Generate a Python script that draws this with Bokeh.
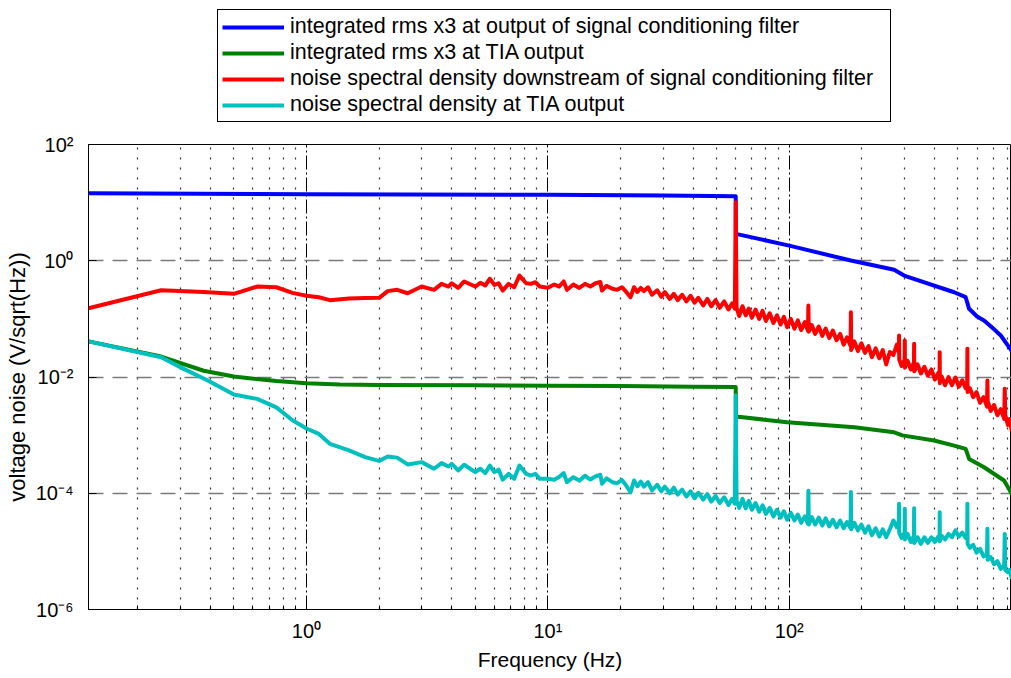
from bokeh.plotting import figure
from bokeh.layouts import column
from bokeh.models import (FixedTicker, Legend, LegendItem, CustomJSTickFormatter)
from bokeh.embed import file_html
from bokeh.resources import INLINE

FONT = "Liberation Sans"

# ---------------- data ----------------
x_major = [1, 10, 100]
x_minor = [0.2, 0.3, 0.4, 0.5, 0.6, 0.7, 0.8, 0.9,
           2, 3, 4, 5, 6, 7, 8, 9,
           20, 30, 40, 50, 60, 70, 80, 90,
           200, 300, 400, 500, 600, 700, 800]
x_tick_labels = ["10\u2070", "10\u00b9", "10\u00b2"]
y_major = [1e-6, 1e-4, 1e-2, 1, 1e2]
y_tick_labels = ["10\u207b\u2076", "10\u207b\u2074", "10\u207b\u00b2", "10\u2070", "10\u00b2"]
y_grid = [1e-4, 1e-2, 1]

x_title = "Frequency (Hz)"
y_title = "voltage noise (V/sqrt(Hz))"
labels = ["integrated rms x3 at output of signal conditioning filter",
          "integrated rms x3 at TIA output",
          "noise spectral density downstream of signal conditioning filter",
          "noise spectral density at TIA output"]
colors = ["#0000FF", "#008000", "#FF0000", "#00BFBF"]

blue_pairs = [(0.125, 14.5), (1.0, 14.0), (10.0, 13.6), (30.0, 13.2), (60.0, 12.9),
              (60.125, 2.90), (100.0, 1.82), (180.0, 1.01), (272.0, 0.70), (299.0, 0.557),
              (482.0, 0.287), (538.0, 0.236), (556.0, 0.149), (600.0, 0.11), (641.0, 0.094),
              (700.0, 0.068), (752.0, 0.0517), (800.0, 0.036), (833.0, 0.0286)]

green_pairs = [(0.125, 0.041), (0.25, 0.0225), (0.375, 0.0128), (0.5, 0.0102), (0.75, 0.0085),
               (1.0, 0.0078), (1.375, 0.0074), (2.0, 0.0073), (5.0, 0.0072), (10.0, 0.0071),
               (20.0, 0.0070), (40.0, 0.0068), (60.0, 0.0067), (60.125, 0.00209), (98.0, 0.00167),
               (186.0, 0.00137), (272.0, 0.00112), (294.0, 0.00099), (398.0, 0.00081),
               (482.0, 0.00066), (538.0, 0.00058), (556.0, 0.00039), (641.0, 0.00028),
               (776.0, 0.000166), (833.0, 0.0001)]

red_pairs = [(0.125, 0.152), (0.25, 0.31), (0.375, 0.29), (0.5, 0.27), (0.625, 0.36), (0.75, 0.35),
             (0.875, 0.28), (1.0, 0.25), (1.125, 0.235), (1.25, 0.21), (1.5, 0.225), (1.75, 0.228),
             (2.0, 0.23), (2.17, 0.30), (2.375, 0.316), (2.625, 0.276), (3.0, 0.36), (3.375, 0.316),
             (3.625, 0.40), (3.875, 0.36), (4.0, 0.41), (4.25, 0.342), (4.5, 0.44), (5.0, 0.36),
             (5.25, 0.417), (5.5, 0.375), (5.75, 0.49), (6.0, 0.385), (6.25, 0.41), (6.5, 0.307),
             (6.875, 0.40), (7.25, 0.35), (7.625, 0.556), (8.125, 0.41), (8.5, 0.40), (8.875, 0.427),
             (9.25, 0.36), (10.0, 0.342), (10.625, 0.39), (11.125, 0.36), (11.625, 0.44), (12.0, 0.316),
             (12.75, 0.39), (13.5, 0.34), (14.25, 0.40), (15.0, 0.36), (15.75, 0.41), (16.5, 0.43),
             (16.75, 0.307), (17.5, 0.37), (18.5, 0.33), (19.375, 0.316), (20.25, 0.35), (21.0, 0.30),
             (22.0, 0.236), (22.75, 0.35), (23.5, 0.29), (24.25, 0.34), (25.0, 0.30), (26.0, 0.35),
             (27.0, 0.26), (28.375, 0.31), (29.5, 0.24), (30.5, 0.29), (32.0, 0.22), (33.25, 0.27),
             (34.5, 0.21), (36.0, 0.26), (37.5, 0.20), (39.0, 0.25), (40.5, 0.19), (42.0, 0.23),
             (44.0, 0.17), (45.75, 0.22), (47.5, 0.165), (49.5, 0.21), (51.5, 0.155), (53.75, 0.20),
             (56.0, 0.145), (58.0, 0.185), (59.5, 0.150), (60.0, 10.1), (60.5, 0.155), (62.0, 0.112),
             (64.0, 0.165), (66.0, 0.115), (68.0, 0.150), (70.0, 0.105), (72.5, 0.145), (75.0, 0.100),
             (77.5, 0.138), (80.0, 0.092), (83.0, 0.125), (86.0, 0.085), (89.0, 0.115), (92.0, 0.080),
             (95.0, 0.108), (98.0, 0.072), (101.5, 0.100), (105.0, 0.068), (108.5, 0.094), (112.0, 0.064),
             (116.0, 0.088), (119.5, 0.062), (120.0, 0.170), (120.5, 0.060), (124.0, 0.078), (128.0, 0.055),
             (132.5, 0.074), (137.0, 0.051), (141.5, 0.068), (146.5, 0.047), (151.5, 0.063), (157.0, 0.043),
             (162.5, 0.055), (168.0, 0.036), (173.5, 0.048), (179.5, 0.034), (180.0, 0.130), (180.5, 0.029),
             (186.0, 0.041), (192.5, 0.028), (199.0, 0.038), (206.0, 0.026), (213.0, 0.034), (220.0, 0.022),
             (228.0, 0.031), (236.0, 0.021), (244.0, 0.029), (252.0, 0.0165), (261.0, 0.027), (270.0, 0.024),
             (279.0, 0.036), (284.5, 0.027), (285.0, 0.0517), (285.5, 0.020), (292.0, 0.0155), (300.5, 0.020),
             (301.0, 0.0424), (301.5, 0.0145), (309.0, 0.019), (319.0, 0.0135), (328.5, 0.018), (329.0, 0.0372),
             (329.5, 0.0125), (340.0, 0.0165), (351.0, 0.0115), (363.0, 0.0150), (375.0, 0.0105), (388.0, 0.0135),
             (401.0, 0.0090), (414.5, 0.0118), (419.5, 0.0088), (420.0, 0.0267), (420.5, 0.0078), (428.0, 0.0102),
             (442.0, 0.0072), (457.0, 0.0100), (472.0, 0.0072), (488.0, 0.0098), (504.0, 0.0068), (521.0, 0.0088),
             (538.0, 0.0064), (546.0, 0.0080), (547.0, 0.0305), (548.0, 0.0055), (560.0, 0.0064), (578.0, 0.0045),
             (597.0, 0.0055), (617.0, 0.0036), (638.0, 0.0045), (659.5, 0.0031), (662.0, 0.0087), (664.0, 0.0038),
             (683.0, 0.0026), (705.0, 0.0033), (728.0, 0.0022), (752.0, 0.0028), (777.0, 0.0019), (781.0, 0.00627),
             (785.0, 0.0022), (805.0, 0.0015), (818.0, 0.0019), (833.0, 0.00125)]

cyan_pairs = [(0.125, 0.041), (0.25, 0.0219), (0.31, 0.0138), (0.39, 0.0087), (0.5, 0.0050), (0.625, 0.0042),
              (0.75, 0.0030), (0.875, 0.0018), (1.0, 0.0013), (1.125, 0.00105), (1.25, 0.00071), (1.5, 0.000545),
              (1.75, 0.000418), (2.0, 0.00036), (2.17, 0.00043), (2.375, 0.00041), (2.625, 0.000313),
              (3.0, 0.000343), (3.375, 0.000264), (3.625, 0.00033), (3.875, 0.000289), (4.0, 0.00032),
              (4.25, 0.000247), (4.5, 0.000309), (5.0, 0.000231), (5.25, 0.000264), (5.5, 0.000222),
              (5.75, 0.00030), (6.0, 0.000231), (6.25, 0.000254), (6.5, 0.000171), (6.875, 0.000216),
              (7.25, 0.000177), (7.625, 0.00030), (8.125, 0.000216), (8.5, 0.000202), (8.875, 0.000216),
              (9.25, 0.000177), (10.0, 0.000177), (10.625, 0.000171), (11.125, 0.000190), (11.625, 0.000222),
              (12.0, 0.000155), (12.75, 0.000189), (13.5, 0.000165), (14.25, 0.000200), (15.0, 0.000172),
              (15.75, 0.000195), (16.5, 0.000208), (16.75, 0.000146), (17.5, 0.000180), (18.5, 0.000155),
              (19.375, 0.000149), (20.25, 0.000170), (21.0, 0.000140), (22.0, 0.000104), (22.75, 0.000166),
              (23.5, 0.000132), (24.25, 0.000158), (25.0, 0.000130), (26.0, 0.000155), (27.0, 0.000112),
              (28.375, 0.000140), (29.5, 0.000108), (30.5, 0.000130), (32.0, 0.000100), (33.25, 0.000125),
              (34.5, 0.000095), (36.0, 0.000115), (37.5, 0.000088), (39.0, 0.000108), (40.5, 0.000082),
              (42.0, 0.000102), (44.0, 0.000078), (45.75, 0.000097), (47.5, 0.000072), (49.5, 0.000090),
              (51.5, 0.000068), (53.75, 0.000085), (56.0, 0.000063), (58.0, 0.000080), (59.5, 0.000066),
              (60.0, 0.0048), (60.5, 7.5e-5), (62.0, 5.6e-5), (64.0, 8.0e-5), (66.0, 5.5e-5), (68.0, 7.4e-5),
              (70.0, 5.2e-5), (72.5, 6.8e-5), (75.0, 4.8e-5), (77.5, 6.2e-5), (80.0, 4.4e-5), (83.0, 5.6e-5),
              (86.0, 4.0e-5), (89.0, 5.2e-5), (92.0, 3.8e-5), (95.0, 4.9e-5), (98.0, 3.5e-5), (101.5, 4.6e-5),
              (105.0, 3.4e-5), (108.5, 4.3e-5), (112.0, 3.1e-5), (116.0, 4.0e-5), (119.5, 3.0e-5), (120.0, 1.10e-4),
              (120.5, 2.9e-5), (124.0, 3.9e-5), (128.0, 2.9e-5), (132.5, 3.8e-5), (137.0, 2.8e-5), (141.5, 3.7e-5),
              (146.5, 2.7e-5), (151.5, 3.5e-5), (157.0, 2.6e-5), (162.5, 3.4e-5), (168.0, 2.5e-5), (173.5, 3.2e-5),
              (179.5, 2.5e-5), (180.0, 1.05e-4), (180.5, 2.4e-5), (186.0, 3.1e-5), (192.5, 2.3e-5), (199.0, 2.9e-5),
              (206.0, 2.1e-5), (213.0, 2.7e-5), (220.0, 1.9e-5), (228.0, 2.5e-5), (236.0, 1.8e-5), (244.0, 2.4e-5),
              (252.0, 1.75e-5), (261.0, 2.4e-5), (270.0, 3.4e-5), (279.0, 2.6e-5), (284.5, 3.3e-5), (285.0, 6.6e-5),
              (285.5, 2.1e-5), (292.0, 1.7e-5), (300.5, 2.1e-5), (301.0, 5.4e-5), (301.5, 1.6e-5), (309.0, 2.0e-5),
              (319.0, 1.45e-5), (328.5, 1.85e-5), (329.0, 5.5e-5), (329.5, 1.4e-5), (340.0, 1.75e-5), (351.0, 1.35e-5),
              (363.0, 1.75e-5), (375.0, 1.4e-5), (388.0, 1.75e-5), (401.0, 1.45e-5), (414.5, 1.8e-5), (419.5, 1.5e-5),
              (420.0, 4.73e-5), (420.5, 1.5e-5), (428.0, 1.85e-5), (442.0, 1.6e-5), (457.0, 2.0e-5), (472.0, 1.75e-5),
              (488.0, 2.3e-5), (504.0, 1.8e-5), (521.0, 2.1e-5), (538.0, 1.7e-5), (546.0, 1.9e-5), (547.0, 6.6e-5),
              (548.0, 1.35e-5), (560.0, 1.15e-5), (578.0, 1.3e-5), (597.0, 9.5e-6), (617.0, 1.1e-5), (638.0, 8.2e-6),
              (659.5, 9.0e-6), (662.0, 2.45e-5), (664.0, 7.2e-6), (683.0, 8.0e-6), (705.0, 6.0e-6), (728.0, 6.8e-6),
              (752.0, 5.0e-6), (777.0, 5.8e-6), (781.0, 2.0e-5), (785.0, 4.8e-6), (805.0, 4.4e-6), (818.0, 4.8e-6),
              (833.0, 3.6e-6)]

series = [blue_pairs, green_pairs, red_pairs, cyan_pairs]

def xy(pairs):
    return [a for a, b in pairs], [b for a, b in pairs]

# ---------------- legend strip (top) ----------------
pl = figure(width=1011, height=130, x_range=(-2, -1), y_range=(0, 1),
            output_backend="svg", toolbar_location=None,
            x_axis_location=None, y_axis_location=None,
            min_border_left=0, min_border_right=0, min_border_top=0, min_border_bottom=0,
            background_fill_color="white", border_fill_color="white")
pl.outline_line_color = None
pl.xgrid.visible = False
pl.ygrid.visible = False
leg_r = []
for pairs, c in zip(series, colors):
    fx, fy = xy(pairs)
    leg_r.append(pl.line(fx, fy, line_color=c, line_width=4))   # out of view, only feeds the legend
legend = Legend(items=[LegendItem(label=lab, renderers=[r]) for lab, r in zip(labels, leg_r)],
                location=(129, 8), orientation="vertical",
                label_text_font=FONT, label_text_font_size="21.5px", label_text_color="black",
                glyph_width=62, glyph_height=24, label_height=24, label_width=596,
                label_standoff=6, spacing=1, padding=4, margin=0,
                border_line_color="black", border_line_width=1.3, border_line_alpha=1.0,
                background_fill_color="white", background_fill_alpha=1.0)
pl.add_layout(legend)

# ---------------- main plot ----------------
p = figure(width=1011, height=548, x_axis_type="log", y_axis_type="log",
           x_range=(0.125, 833), y_range=(1e-6, 1e2),
           output_backend="svg", toolbar_location=None,
           min_border_left=88, min_border_right=0, min_border_top=14, min_border_bottom=69,
           background_fill_color="white", border_fill_color="white")
p.outline_line_color = "black"
p.outline_line_width = 1
p.outline_line_alpha = 1.0

LABEL_JS = """
for (let i = 0; i < tvals.length; i++) {
  if (Math.abs(Math.log10(tick) - Math.log10(tvals[i])) < 1e-6) { return tlabels[i]; }
}
return '';
"""

bottom = p.below[0]
bottom.formatter = CustomJSTickFormatter(args=dict(tvals=x_major, tlabels=x_tick_labels), code=LABEL_JS)
bottom.ticker = FixedTicker(ticks=x_major, minor_ticks=x_minor)
bottom.major_label_standoff = 10
bottom.axis_label = x_title
bottom.axis_label_standoff = 3
bottom.major_tick_in = 8
bottom.major_tick_out = 0
bottom.minor_tick_in = 4
bottom.minor_tick_out = 0
bottom.minor_tick_line_color = "black"

left = p.left[0]
left.formatter = CustomJSTickFormatter(args=dict(tvals=y_major, tlabels=y_tick_labels), code=LABEL_JS)
left.ticker = FixedTicker(ticks=y_major, minor_ticks=[])
left.major_label_standoff = 15
left.axis_label = y_title
left.axis_label_standoff = 3
left.major_tick_in = 8
left.major_tick_out = 0
left.minor_tick_line_color = None

for ax in (bottom, left):
    ax.axis_line_color = "black"
    ax.major_tick_line_color = "black"
    ax.major_label_text_font = FONT
    ax.major_label_text_font_size = "20px"
    ax.major_label_text_color = "black"
    ax.axis_label_text_font = FONT
    ax.axis_label_text_font_style = "normal"
    ax.axis_label_text_color = "black"
bottom.axis_label_text_font_size = "21px"
left.axis_label_text_font_size = "22px"

xg = p.xgrid[0]
xg.ticker = FixedTicker(ticks=x_major, minor_ticks=x_minor)
xg.grid_line_color = "black"
xg.grid_line_width = 1
xg.grid_line_dash = "14 3 2 3"
xg.minor_grid_line_color = "#333333"
xg.minor_grid_line_width = 1.2
xg.minor_grid_line_dash = "2 8"

yg = p.ygrid[0]
yg.ticker = FixedTicker(ticks=y_grid, minor_ticks=[])
yg.grid_line_color = "#7a7a7a"
yg.grid_line_width = 1.4
yg.grid_line_dash = "15 9"

for pairs, color in zip(series, colors):
    fx, fy = xy(pairs)
    p.line(fx, fy, line_color=color, line_width=4, line_join="round", line_cap="round")

layout = column(pl, p, spacing=0)
open("out.html", "w").write(file_html(layout, INLINE))
